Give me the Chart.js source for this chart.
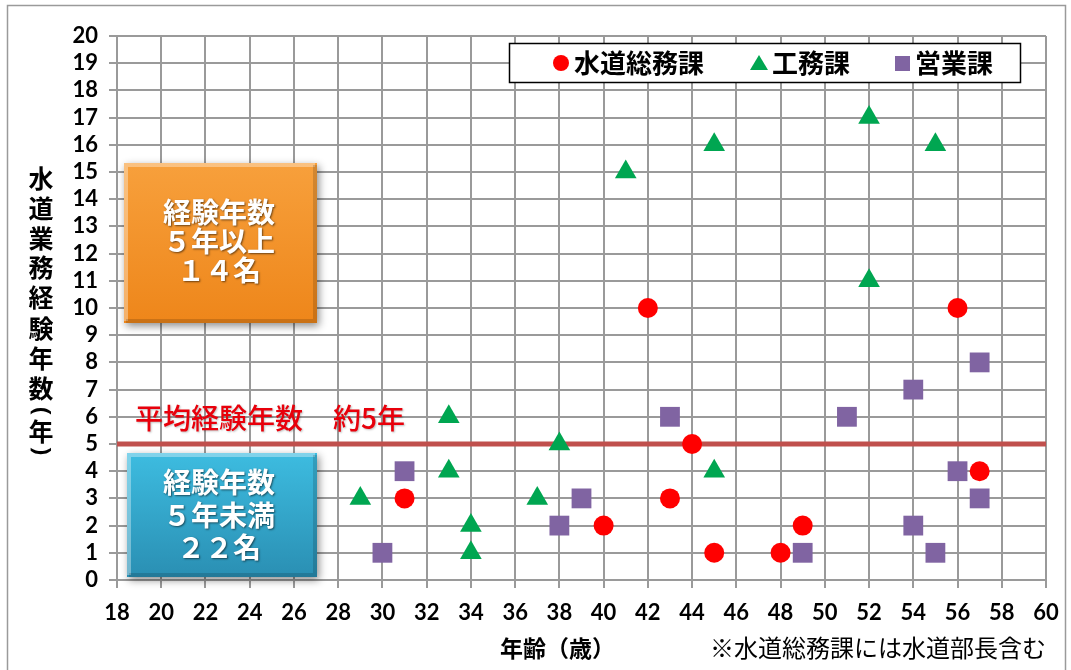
<!DOCTYPE html>
<html>
<head>
<meta charset="utf-8">
<script src="https://cdn.jsdelivr.net/npm/chart.js@4.4.1/dist/chart.umd.min.js"></script>
<style>
  html, body { margin: 0; padding: 0; background: #fff; }
  #wrap { width: 1071px; height: 670px; }
</style>
</head>
<body>
<div id="wrap"><canvas id="expChart" width="1071" height="670"></canvas></div>
<script>
// 年齢 / 水道業務経験年数
var soumuAge = [31, 40, 42, 43, 44, 45, 48, 49, 56, 57];
var soumuYears = [3, 2, 10, 3, 5, 1, 1, 2, 10, 4];
var koumuAge = [29, 33, 33, 34, 34, 37, 38, 41, 45, 45, 52, 52, 55];
var koumuYears = [3, 6, 4, 2, 1, 3, 5, 15, 16, 4, 17, 11, 16];
var eigyoAge = [30, 31, 38, 39, 43, 49, 51, 54, 54, 55, 56, 57, 57];
var eigyoYears = [1, 4, 2, 3, 6, 1, 6, 7, 2, 1, 4, 8, 3];
var avgAgeRange = [18, 60];
var avgYears = 5;
var seriesNames = ['水道総務課', '工務課', '営業課'];

var JP = '"Noto Sans CJK JP", "Noto Sans", sans-serif';
var NUM = 'Lato, "Open Sans", sans-serif';

function toPoints(xs, ys) {
    return xs.map(function (x, i) { return { x: x, y: ys[i] }; });
}

function bevelBox(ctx, x, y, w, h, c1, c2) {
    ctx.save();
    ctx.shadowColor = 'rgba(0,0,0,0.45)';
    ctx.shadowBlur = 8;
    ctx.shadowOffsetX = 2;
    ctx.shadowOffsetY = 3;
    var g = ctx.createLinearGradient(0, y, 0, y + h);
    g.addColorStop(0, c1);
    g.addColorStop(1, c2);
    ctx.fillStyle = g;
    ctx.fillRect(x, y, w, h);
    ctx.restore();
    // bevel: light top/left, dark bottom/right
    ctx.save();
    ctx.lineWidth = 4;
    ctx.strokeStyle = 'rgba(255,255,255,0.35)';
    ctx.beginPath();
    ctx.moveTo(x + 2, y + h - 2); ctx.lineTo(x + 2, y + 2); ctx.lineTo(x + w - 2, y + 2);
    ctx.stroke();
    ctx.strokeStyle = 'rgba(0,0,0,0.15)';
    ctx.beginPath();
    ctx.moveTo(x + w - 2, y + 2); ctx.lineTo(x + w - 2, y + h - 2); ctx.lineTo(x + 2, y + h - 2);
    ctx.stroke();
    ctx.restore();
}

function boxText(ctx, lines, cx, ys, size) {
    ctx.save();
    ctx.font = 'bold ' + size + 'px ' + JP;
    ctx.textAlign = 'center';
    ctx.textBaseline = 'middle';
    ctx.fillStyle = '#fff';
    ctx.shadowColor = 'rgba(0,0,0,0.55)';
    ctx.shadowBlur = 2;
    ctx.shadowOffsetX = 1;
    ctx.shadowOffsetY = 1;
    lines.forEach(function (t, i) { ctx.fillText(t, cx, ys[i]); });
    ctx.restore();
}

var decor = {
    id: 'decor',
    beforeDraw: function (chart) {
        var ctx = chart.ctx;
        ctx.save();
        ctx.fillStyle = '#fff';
        ctx.fillRect(0, 0, chart.width, chart.height);
        ctx.restore();
    },
    beforeDatasetsDraw: function (chart) {
        var ctx = chart.ctx;
        bevelBox(ctx, 124, 163, 193, 160, '#F7A03C', '#EE861A');
        boxText(ctx, ['経験年数', '５年以上', '１４名'], 219, [212, 241, 270], 28);
        bevelBox(ctx, 127, 453, 190, 124, '#3DBCE0', '#2A8FB3');
        boxText(ctx, ['経験年数', '５年未満', '２２名'], 219, [482, 515, 547], 28);

        ctx.save();
        ctx.font = '500 28px ' + JP;
        ctx.fillStyle = '#E8000B';
        ctx.textBaseline = 'middle';
        ctx.shadowColor = 'rgba(0,0,0,0.25)';
        ctx.shadowBlur = 2;
        ctx.shadowOffsetX = 1;
        ctx.shadowOffsetY = 1;
        ctx.fillText('平均経験年数', 135, 418);
        ctx.fillText('約5年', 333, 418);
        ctx.restore();
    },
    afterDraw: function (chart) {
        var ctx = chart.ctx;
        // outer frame
        ctx.save();
        ctx.strokeStyle = '#9a9a9a';
        ctx.lineWidth = 1.5;
        ctx.strokeRect(7.5, 5.5, 1058, 680);
        ctx.restore();

        // legend
        ctx.save();
        ctx.fillStyle = '#fff';
        ctx.fillRect(509, 43, 511, 39);
        ctx.strokeStyle = '#000';
        ctx.lineWidth = 1.5;
        ctx.strokeRect(509.5, 43.5, 511, 39);
        var ly = 63;
        ctx.fillStyle = '#FF0000';
        ctx.beginPath(); ctx.arc(561, ly, 8, 0, Math.PI * 2); ctx.fill();
        ctx.fillStyle = '#00A651';
        ctx.beginPath(); ctx.moveTo(759, ly - 8); ctx.lineTo(768, ly + 7); ctx.lineTo(750, ly + 7); ctx.closePath(); ctx.fill();
        ctx.fillStyle = '#8064A2';
        ctx.fillRect(895, ly - 7, 15, 15);
        ctx.font = 'bold 26px ' + JP;
        ctx.fillStyle = '#000';
        ctx.textBaseline = 'middle';
        ctx.fillText(seriesNames[0], 574, ly);
        ctx.fillText(seriesNames[1], 772, ly);
        ctx.fillText(seriesNames[2], 915, ly);
        ctx.restore();

        // y title (vertical)
        ctx.save();
        ctx.font = 'bold 25px ' + JP;
        ctx.fillStyle = '#000';
        ctx.textAlign = 'center';
        ctx.textBaseline = 'middle';
        var chars = ['水', '道', '業', '務', '経', '験', '年', '数'];
        var cys = [178, 208, 238, 267, 297, 328, 358, 388];
        chars.forEach(function (c, i) { ctx.fillText(c, 41, cys[i]); });
        ctx.fillText('年', 41, 431);
        ctx.font = 'bold 24px "Noto Sans", sans-serif';
        [['(', 411], [')', 451]].forEach(function (p) {
            ctx.save();
            ctx.translate(41, p[1]);
            ctx.rotate(Math.PI / 2);
            ctx.fillText(p[0], 0, 0);
            ctx.restore();
        });
        ctx.restore();

        // x title and note
        ctx.save();
        ctx.fillStyle = '#000';
        ctx.textBaseline = 'middle';
        ctx.font = 'bold 23px ' + JP;
        ctx.fillText('年齢（歳）', 500, 648);
        ctx.font = '24px ' + JP;
        ctx.fillText('※水道総務課には水道部長含む', 710, 648);
        ctx.restore();
    }
};

var ctx = document.getElementById('expChart').getContext('2d');
var expChart = new Chart(ctx, {
    type: 'scatter',
    data: {
        datasets: [{
            label: seriesNames[0],
            data: toPoints(soumuAge, soumuYears),
            pointStyle: 'circle',
            pointRadius: 10,
            backgroundColor: '#FF0000',
            borderColor: '#FF0000',
            borderWidth: 0,
            order: 1
        }, {
            label: seriesNames[1],
            data: toPoints(koumuAge, koumuYears),
            pointStyle: 'triangle',
            pointRadius: 12.5,
            backgroundColor: '#00A651',
            borderColor: '#00A651',
            borderWidth: 0,
            order: 2
        }, {
            label: seriesNames[2],
            data: toPoints(eigyoAge, eigyoYears),
            pointStyle: 'rect',
            pointRadius: 14,
            backgroundColor: '#8064A2',
            borderColor: '#8064A2',
            borderWidth: 0,
            order: 3
        }, {
            label: '平均',
            type: 'line',
            data: avgAgeRange.map(function (x) { return { x: x, y: avgYears }; }),
            borderColor: '#C0504D',
            borderWidth: 5,
            pointRadius: 0,
            fill: false,
            order: 10
        }]
    },
    options: {
        responsive: false,
        animation: false,
        layout: { padding: { top: 36, right: 25, left: 0, bottom: 0 } },
        plugins: {
            legend: { display: false },
            tooltip: { enabled: false }
        },
        scales: {
            x: {
                type: 'linear',
                min: 18,
                max: 60,
                afterFit: function (s) { s.height = 90; },
                ticks: {
                    stepSize: 2,
                    autoSkip: false,
                    maxRotation: 0,
                    color: '#000',
                    padding: 12,
                    font: { family: NUM, size: 22, weight: 'bold' }
                },
                grid: { color: '#9a9a9a', lineWidth: 2, tickLength: 8 },
                border: { color: '#9a9a9a', width: 2 }
            },
            y: {
                min: 0,
                max: 20,
                afterFit: function (s) { s.width = 117; },
                ticks: {
                    stepSize: 1,
                    autoSkip: false,
                    color: '#000',
                    padding: 11,
                    font: { family: NUM, size: 22, weight: 'bold' }
                },
                grid: { color: '#9a9a9a', lineWidth: 2, tickLength: 8 },
                border: { color: '#9a9a9a', width: 2 }
            }
        }
    },
    plugins: [decor]
});
</script>
</body>
</html>
